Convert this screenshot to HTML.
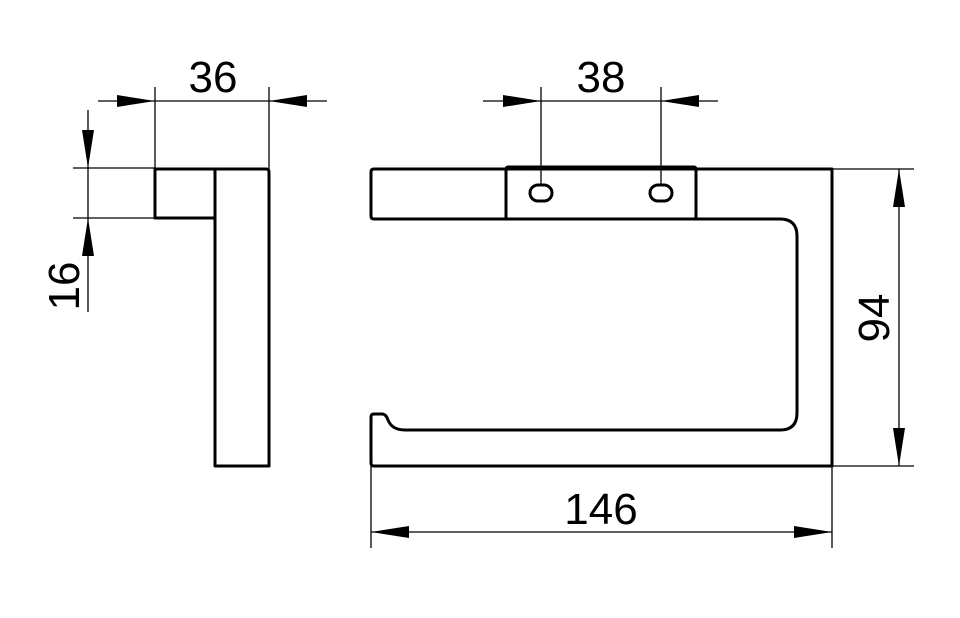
<!DOCTYPE html>
<html><head><style>html,body{margin:0;padding:0;background:#fff}svg{display:block}</style></head>
<body>
<svg width="960" height="618" viewBox="0 0 960 618" xmlns="http://www.w3.org/2000/svg" font-family="Liberation Sans, Arial, sans-serif">
<g fill="none" stroke="#000" stroke-width="1.3">
  <!-- 36 dim -->
  <line x1="98" y1="101" x2="327" y2="101"/>
  <line x1="155" y1="87" x2="155" y2="169"/>
  <line x1="269" y1="87" x2="269" y2="169"/>
  <!-- 16 dim -->
  <line x1="88" y1="110" x2="88" y2="312"/>
  <line x1="73" y1="168" x2="155" y2="168"/>
  <line x1="73" y1="218" x2="155" y2="218"/>
  <!-- 38 dim -->
  <line x1="483" y1="101" x2="718" y2="101"/>
  <line x1="541" y1="87" x2="541" y2="185"/>
  <line x1="661" y1="87" x2="661" y2="185"/>
  <!-- 94 dim -->
  <line x1="899" y1="169" x2="899" y2="466"/>
  <line x1="832" y1="169" x2="914" y2="169"/>
  <line x1="832" y1="466" x2="914" y2="466"/>
  <!-- 146 dim -->
  <line x1="371" y1="532" x2="832" y2="532"/>
  <line x1="371" y1="466" x2="371" y2="548"/>
  <line x1="832" y1="466" x2="832" y2="548"/>
</g>
<g fill="#000">
  <polygon points="155,101 117,95 117,107"/>
  <polygon points="269,101 307,95 307,107"/>
  <polygon points="88,168 82,130 94,130"/>
  <polygon points="88,218 82,256 94,256"/>
  <polygon points="541,101 503,95 503,107"/>
  <polygon points="661,101 699,95 699,107"/>
  <polygon points="899,169 893,207 905,207"/>
  <polygon points="899,466 893,428 905,428"/>
  <polygon points="371,532 409,526 409,538"/>
  <polygon points="832,532 794,526 794,538"/>
</g>
<g fill="none" stroke="#000" stroke-width="3" stroke-linejoin="round">
  <!-- side view -->
  <rect x="155" y="169" width="60" height="49"/>
  <path d="M215,169 H266 Q269,169 269,172 V466 H215 Z"/>
  <!-- front view outline -->
  <path d="M374,169 H832 V466 H374 Q371,466 371,463 V417 Q371,414 374,414 H382 Q386,414 388,420 Q392,430 405,430 H780 Q797,430 797,413 V236 Q797,219 780,219 H374 Q371,219 371,216 V172 Q371,169 374,169 Z"/>
  <rect x="506" y="167" width="190" height="52" rx="2"/>
  <rect x="530" y="185" width="22" height="16" rx="8"/>
  <rect x="650" y="185" width="22" height="16" rx="8"/>
</g>
<g fill="#000" font-size="44">
  <text x="213" y="92" text-anchor="middle">36</text>
  <text x="601" y="92" text-anchor="middle">38</text>
  <text x="601" y="524" text-anchor="middle">146</text>
  <text transform="translate(79,286) rotate(-90)" text-anchor="middle">16</text>
  <text transform="translate(889,318) rotate(-90)" text-anchor="middle">94</text>
</g>
</svg>
</body></html>
